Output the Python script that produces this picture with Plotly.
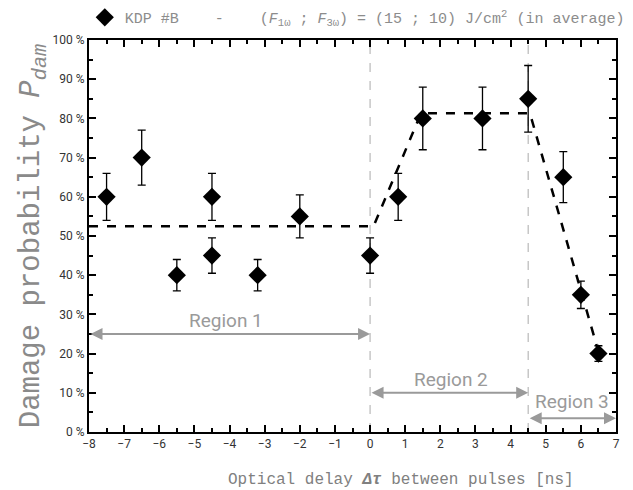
import plotly.graph_objects as go

# ---- data ----
delay_ns = [-7.5, -6.5, -5.5, -4.5, -4.5, -3.2, -2.0, 0.0, 0.8, 1.5, 3.2, 4.5, 5.5, 6.0, 6.5]
p_dam = [60, 70, 40, 60, 45, 40, 55, 45, 60, 80, 80, 85, 65, 35, 20]
p_err = [6, 7, 4, 6, 4.5, 4, 5.5, 4.5, 6, 8, 8, 8.5, 6.5, 3.5, 2]

fit_x = [-8, 0.1, 1.45, 4.55, 6.5]
fit_y = [52.5, 52.5, 81.3, 81.3, 20.5]

region_bounds = [0, 4.5]
region_names = ["Region 1", "Region 2", "Region 3"]
region_arrow_x = [(-8, 0), (0, 4.5), (4.5, 7)]
region_arrow_y = [25, 10, 3.5]
region_label_x = [-4.1, 2.3, 5.75]
region_label_y = [28.5, 13.3, 7.7]

y_tickvals = [0, 10, 20, 30, 40, 50, 60, 70, 80, 90, 100]
y_ticktext = [f"{v} %" for v in y_tickvals]
x_tickvals = list(range(-8, 8))

legend_label = ("KDP #B    -    (<i>F</i><sub>1ω</sub> ; <i>F</i><sub>3ω</sub>) = "
                "(15 ; 10) J/cm<sup>2</sup> (in average)")

GRAY = "#9a9a9a"
MONO = "Liberation Mono"
SANS = "Roboto"

W, H = 633, 490
OFF = 8  # page body margin
# desired plot box in screenshot pixels
PX0, PX1, PY0, PY1 = 89, 616, 40, 432
ML, MT = PX0 - OFF, PY0 - OFF
MR, MB = (W + OFF) - PX1, (H + OFF) - PY1
PW, PH = PX1 - PX0, PY1 - PY0

fig = go.Figure()

# fit line
fig.add_trace(go.Scatter(
    x=fit_x, y=fit_y, mode="lines",
    line=dict(color="black", width=2.5, dash="dash"),
    showlegend=False, hoverinfo="skip"))

# data points
fig.add_trace(go.Scatter(
    x=delay_ns, y=p_dam, mode="markers", name=legend_label,
    marker=dict(symbol="diamond", size=14, color="black"),
    error_y=dict(type="data", array=p_err, color="black", thickness=1.3, width=4),
    showlegend=True))

# vertical dashed region boundaries
for b in region_bounds:
    fig.add_shape(type="line", xref="x", yref="paper", x0=b, x1=b, y0=0, y1=1,
                  line=dict(color="#aaaaaa", width=1, dash="dash"), layer="below")

# region arrows & labels
for (xa, xb), ya, name, lx, ly in zip(region_arrow_x, region_arrow_y, region_names,
                                       region_label_x, region_label_y):
    fig.add_annotation(x=xb, y=ya, ax=xa, ay=ya, xref="x", yref="y", axref="x", ayref="y",
                       text="", showarrow=True, arrowhead=2, startarrowhead=2,
                       arrowside="end+start", arrowsize=1.2, startarrowsize=1.2,
                       arrowwidth=2, arrowcolor=GRAY)
    fig.add_annotation(x=lx, y=ly, xref="x", yref="y", text=name, showarrow=False,
                       font=dict(family=SANS, size=19, color=GRAY))

# x-axis title
fig.add_annotation(x=(401 - PX0) / PW, y=-(480 - PY1) / PH, xref="paper", yref="paper",
                   showarrow=False, yanchor="middle",
                   text="Optical delay <b><i>Δτ</i></b> between pulses [ns]",
                   font=dict(family=MONO, size=16, color="#808080"))

fig.update_layout(
    width=W, height=H,
    margin=dict(l=ML, r=MR, t=MT, b=MB, autoexpand=False),
    paper_bgcolor="white", plot_bgcolor="white",
    showlegend=True,
    legend=dict(x=-0.008, y=1.015, xanchor="left", yanchor="bottom",
                font=dict(family=MONO, size=15, color="#8c8c8c"),
                bgcolor="rgba(0,0,0,0)", itemwidth=30),
    xaxis=dict(range=[-8, 7], tickvals=x_tickvals, ticks="inside", ticklen=7,
               tickwidth=1.5, tickcolor="black", showline=True, linecolor="black",
               linewidth=2, mirror="ticks", showgrid=False, zeroline=False, automargin=False,
               minor=dict(dtick=0.5, ticks="inside", ticklen=4, tickcolor="black", tickwidth=1.5),
               tickfont=dict(family=SANS, size=12, color="#333333")),
    yaxis=dict(range=[0, 100], tickvals=y_tickvals, ticktext=y_ticktext, ticks="inside",
               ticklen=7, tickwidth=1.5, tickcolor="black", showline=True, linecolor="black",
               linewidth=2, mirror="ticks", showgrid=False, zeroline=False, automargin=False,
               minor=dict(dtick=5, ticks="inside", ticklen=4, tickcolor="black", tickwidth=1.5),
               tickfont=dict(family=SANS, size=12, color="#333333"),
               title=dict(text="Damage probability <i>P</i><sub><i>dam</i></sub>",
                          font=dict(family=MONO, size=29, color="#8a8a8a"), standoff=4)),
)

fig.write_html("out.html")
